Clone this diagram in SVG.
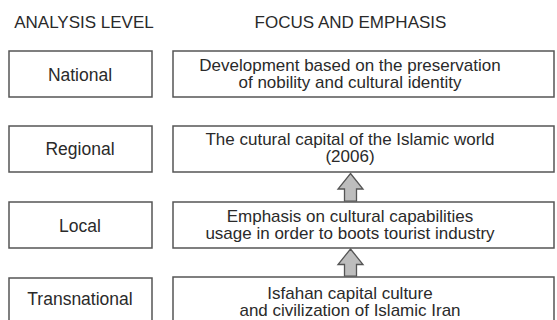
<svg xmlns="http://www.w3.org/2000/svg" width="557" height="320" viewBox="0 0 557 320">
<style>
  .bg { fill: #ffffff; }
  .box { fill: #ffffff; stroke: #555555; stroke-width: 1.5; }
  .hdr { font-family: "Liberation Sans", Arial, sans-serif; font-size: 17px; fill: #2a2a2a; text-anchor: middle; }
  .txt { font-family: "Liberation Sans", Arial, sans-serif; font-size: 17.5px; fill: #2a2a2a; text-anchor: middle; }
  .txt2 { font-family: "Liberation Sans", Arial, sans-serif; font-size: 17px; fill: #2a2a2a; text-anchor: middle; }
  .arrow { fill: #bdbdbd; stroke: #555555; stroke-width: 1.3; stroke-linejoin: miter; }
</style>
<rect class="bg" x="0" y="0" width="557" height="320"/>

<g id="headers">
  <text class="hdr" x="84" y="28">ANALYSIS LEVEL</text>
  <text class="hdr" x="350.5" y="28">FOCUS AND EMPHASIS</text>
</g>

<g id="national">
  <rect class="box" x="9" y="51" width="143" height="46"/>
  <text class="txt" x="80" y="81">National</text>
</g>
<g id="focus-national">
  <rect class="box" x="173" y="51" width="381" height="46"/>
  <text class="txt2" x="350" y="70.5">Development based on the preservation</text>
  <text class="txt2" x="350" y="88">of nobility and cultural identity</text>
</g>

<g id="regional">
  <rect class="box" x="9" y="126" width="143" height="46"/>
  <text class="txt" x="80" y="155">Regional</text>
</g>
<g id="focus-regional">
  <rect class="box" x="173" y="126" width="381" height="46"/>
  <text class="txt2" x="350" y="144.5">The cutural capital of the Islamic world</text>
  <text class="txt2" x="350" y="162">(2006)</text>
</g>

<g id="local">
  <rect class="box" x="9" y="202" width="143" height="46"/>
  <text class="txt" x="80" y="231.5">Local</text>
</g>
<g id="focus-local">
  <rect class="box" x="173" y="202" width="381" height="46"/>
  <text class="txt2" x="350" y="221.5">Emphasis on cultural capabilities</text>
  <text class="txt2" x="350" y="239">usage in order to boots tourist industry</text>
</g>

<g id="transnational">
  <rect class="box" x="9" y="278" width="143" height="46"/>
  <text class="txt" x="80" y="305">Transnational</text>
</g>
<g id="focus-transnational">
  <rect class="box" x="173" y="277" width="381" height="46"/>
  <text class="txt2" x="350" y="298.5">Isfahan capital culture</text>
  <text class="txt2" x="350" y="316">and civilization of Islamic Iran</text>
</g>

<g id="connectors">
  <polygon class="arrow" points="350.5,173.5 363,189 356.5,189 356.5,201.2 344.5,201.2 344.5,189 338,189"/>
  <polygon class="arrow" points="350.5,249 363,264.5 356.5,264.5 356.5,276.2 344.5,276.2 344.5,264.5 338,264.5"/>
</g>
</svg>
